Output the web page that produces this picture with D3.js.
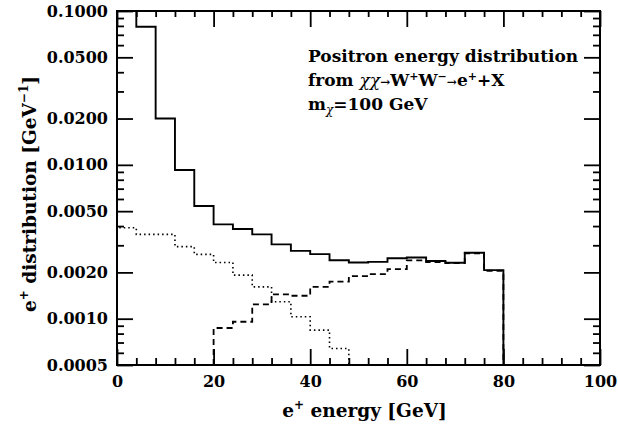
<!DOCTYPE html>
<html>
<head>
<meta charset="utf-8">
<script src="https://cdn.jsdelivr.net/npm/d3@7"></script>
<style>
  body { margin: 0; background: #fff; }
  svg { display: block; }
  text { font-family: "DejaVu Serif", serif; font-weight: bold; fill: #000; }
</style>
</head>
<body>
<svg id="chart" width="618" height="428"></svg>
<script>
// bin edges (GeV), 4 GeV wide
const binEdges = [0, 4, 8, 12, 16, 20, 24, 28, 32, 36, 40, 44, 48, 52, 56, 60, 64, 68, 72, 76, 80];

// total positron spectrum, one value per bin 0-80
const totalValues = [0.15, 0.079, 0.0200, 0.00925, 0.0054, 0.0041, 0.00383, 0.00353, 0.00304, 0.00276,
  0.00263, 0.0024, 0.00232, 0.00234, 0.00247, 0.0025, 0.00237, 0.00231, 0.00268, 0.00207];

// dotted component, bins 0-48
const dottedValues = [0.0039, 0.00353, 0.00353, 0.00294, 0.00262, 0.00232, 0.00192, 0.00161, 0.00129,
  0.00103, 0.000843, 0.00064];
const dottedStart = 0;

// dashed component, bins 20-80
const dashedValues = [0.00087, 0.000955, 0.00124, 0.00144, 0.00141, 0.00161, 0.00174, 0.00189, 0.00195,
  0.0021, 0.00239, 0.00233, 0.0023, 0.00266, 0.00205];
const dashedStart = 20;

const yMajorTicks = [0.1, 0.05, 0.02, 0.01, 0.005, 0.002, 0.001, 0.0005];
const yMinorTicks = [0.09, 0.08, 0.07, 0.06, 0.04, 0.03, 0.009, 0.008, 0.007, 0.006, 0.004, 0.003,
  0.0009, 0.0008, 0.0007, 0.0006];
const xMajorTicks = [0, 20, 40, 60, 80, 100];
const xMinorTicks = [4, 8, 12, 16, 24, 28, 32, 36, 44, 48, 52, 56, 64, 68, 72, 76, 84, 88, 92, 96];

const svg = d3.select('#chart');
const margin = { left: 117, top: 11, right: 18, bottom: 63 };
const width = 618 - margin.left - margin.right;
const height = 428 - margin.top - margin.bottom;

const x = d3.scaleLinear().domain([0, 100]).range([0, width]);
const y = d3.scaleLog().domain([0.0005, 0.1]).range([height, 0]);

const g = svg.append('g').attr('transform', 'translate(' + margin.left + ',' + margin.top + ')');

g.append('clipPath').attr('id', 'plot-clip')
  .append('rect').attr('width', width).attr('height', height);

// histogram outline from a start edge
function histPoints(values, startEdge) {
  const i0 = binEdges.indexOf(startEdge);
  const pts = [[binEdges[i0], 0.0005]];
  values.forEach(function(v, i) {
    pts.push([binEdges[i0 + i], v]);
    pts.push([binEdges[i0 + i + 1], v]);
  });
  pts.push([binEdges[i0 + values.length], 0.0005]);
  return pts;
}

const line = d3.line()
  .x(function(d) { return x(d[0]); })
  .y(function(d) { return y(d[1]); });

const plot = g.append('g').attr('clip-path', 'url(#plot-clip)');

plot.append('path')
  .attr('d', line(histPoints(dottedValues, dottedStart)))
  .attr('fill', 'none').attr('stroke', '#000').attr('stroke-width', 1.6)
  .attr('stroke-dasharray', '1.5,3');

plot.append('path')
  .attr('d', line(histPoints(dashedValues, dashedStart)))
  .attr('fill', 'none').attr('stroke', '#000').attr('stroke-width', 1.8)
  .attr('stroke-dasharray', '6,4');

plot.append('path')
  .attr('d', line(histPoints(totalValues, 0)))
  .attr('fill', 'none').attr('stroke', '#000').attr('stroke-width', 1.9);

// axes, ticks pointing inward
function styleAxis(sel) {
  sel.select('.domain').remove();
  sel.selectAll('line').attr('stroke', '#000').attr('stroke-width', 1.8);
  sel.selectAll('text').attr('font-size', 16).attr('font-family', '"DejaVu Serif", serif')
    .attr('font-weight', 'bold');
}

g.append('g').attr('transform', 'translate(0,' + height + ')')
  .call(d3.axisBottom(x).tickValues(xMajorTicks).tickSize(-16).tickPadding(8).tickFormat(d3.format('d')))
  .call(styleAxis)
  .selectAll('text').attr('dy', '0.85em');
g.append('g').attr('transform', 'translate(0,' + height + ')')
  .call(d3.axisBottom(x).tickValues(xMinorTicks).tickSize(-7).tickFormat(''))
  .call(styleAxis);
g.append('g')
  .call(d3.axisTop(x).tickValues(xMajorTicks).tickSize(-16).tickFormat(''))
  .call(styleAxis);
g.append('g')
  .call(d3.axisTop(x).tickValues(xMinorTicks).tickSize(-6).tickFormat(''))
  .call(styleAxis);

g.append('g')
  .call(d3.axisLeft(y).tickValues(yMajorTicks).tickSize(-16).tickPadding(9).tickFormat(d3.format('.4f')))
  .call(styleAxis);
g.append('g')
  .call(d3.axisLeft(y).tickValues(yMinorTicks).tickSize(-7).tickFormat(''))
  .call(styleAxis);
g.append('g').attr('transform', 'translate(' + width + ',0)')
  .call(d3.axisRight(y).tickValues(yMajorTicks).tickSize(-16).tickFormat(''))
  .call(styleAxis);
g.append('g').attr('transform', 'translate(' + width + ',0)')
  .call(d3.axisRight(y).tickValues(yMinorTicks).tickSize(-7).tickFormat(''))
  .call(styleAxis);

g.append('rect').attr('width', width).attr('height', height)
  .attr('fill', 'none').attr('stroke', '#000').attr('stroke-width', 2);

// axis titles
const xTitle = svg.append('text')
  .attr('x', margin.left + width / 2 + 6).attr('y', 417)
  .attr('text-anchor', 'middle').attr('font-size', 18.5);
xTitle.append('tspan').text('e');
xTitle.append('tspan').attr('font-size', 12).attr('dy', -8).text('+');
xTitle.append('tspan').attr('dy', 8).text(' energy [GeV]');

const yTitle = svg.append('text')
  .attr('transform', 'translate(36,' + 194 + ') rotate(-90)')
  .attr('text-anchor', 'middle').attr('font-size', 18.5);
yTitle.append('tspan').text('e');
yTitle.append('tspan').attr('font-size', 12).attr('dy', -8).text('+');
yTitle.append('tspan').attr('dy', 8).text(' distribution [GeV');
yTitle.append('tspan').attr('font-size', 12).attr('dy', -8).text('−1');
yTitle.append('tspan').attr('dy', 8).text(']');

// annotation
const tx = 308;
svg.append('text').attr('x', tx).attr('y', 62).attr('font-size', 17)
  .text('Positron energy distribution');

const l2 = svg.append('text').attr('x', tx).attr('y', 86).attr('font-size', 17);
l2.append('tspan').text('from ');
l2.append('tspan').attr('font-style', 'italic').attr('font-weight', 'normal').text('χχ');
l2.append('tspan').attr('font-size', 12).text('→');
l2.append('tspan').text('W');
l2.append('tspan').attr('font-size', 11).attr('dy', -6).text('+');
l2.append('tspan').attr('dy', 6).text('W');
l2.append('tspan').attr('font-size', 11).attr('dy', -6).text('−');
l2.append('tspan').attr('dy', 6).attr('font-size', 12).text('→');
l2.append('tspan').text('e');
l2.append('tspan').attr('font-size', 11).attr('dy', -6).text('+');
l2.append('tspan').attr('dy', 6).text('+X');

const l3 = svg.append('text').attr('x', tx).attr('y', 110).attr('font-size', 17);
l3.append('tspan').text('m');
l3.append('tspan').attr('font-size', 12).attr('dy', 4).attr('font-style', 'italic').attr('font-weight', 'normal').text('χ');
l3.append('tspan').attr('dy', -4).text('=100 GeV');
</script>
</body>
</html>
